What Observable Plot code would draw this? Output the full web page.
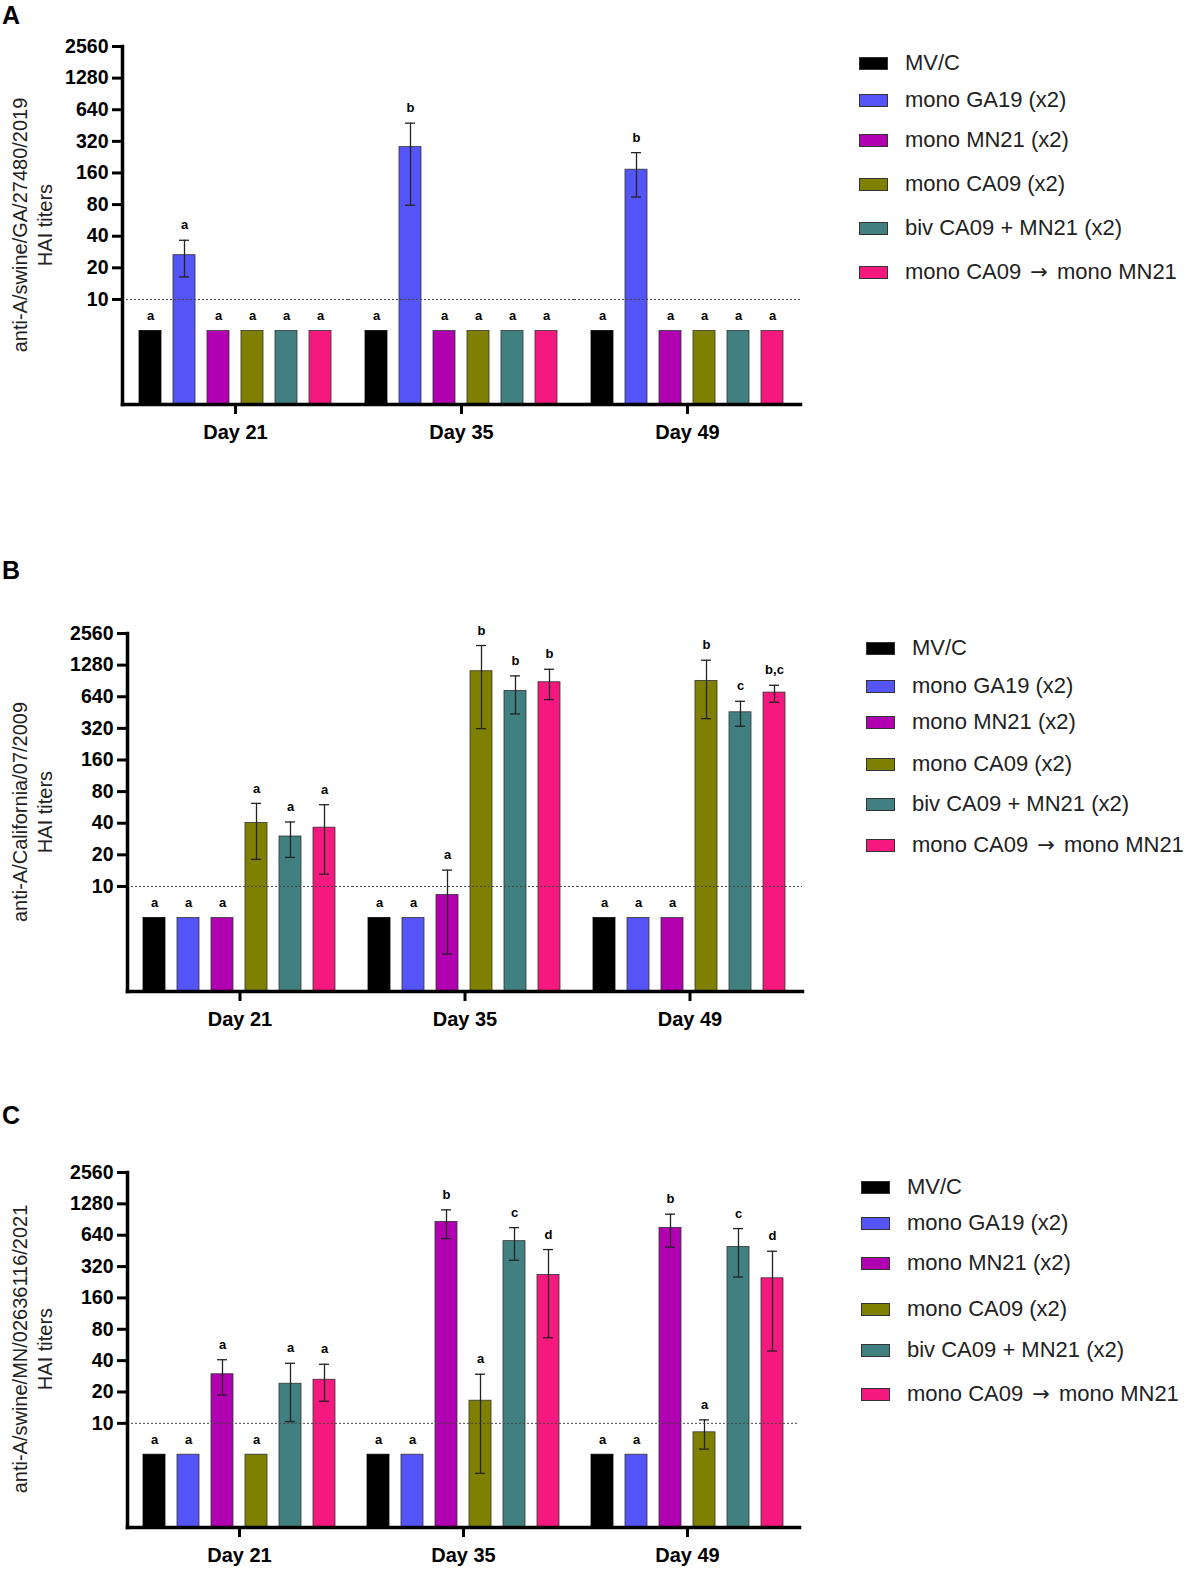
<!DOCTYPE html>
<html><head><meta charset="utf-8">
<script src="https://cdn.jsdelivr.net/npm/d3@7"></script>
<script src="https://cdn.jsdelivr.net/npm/@observablehq/plot@0.6"></script>
<style>
body{margin:0;background:#fff;font-family:"Liberation Sans",Arial,sans-serif;}
#root{position:relative;width:1190px;height:1570px;overflow:hidden;background:#fff;}
.plotbox{position:absolute;left:0;}
.letter{position:absolute;font-weight:bold;font-size:25px;line-height:25px;color:#000;}
.ytitle{position:absolute;transform:translate(-50%,-50%) rotate(-90deg);text-align:center;font-size:20px;line-height:25px;color:#222;white-space:nowrap;}
.leg{position:absolute;display:flex;align-items:center;height:26px;font-size:22px;color:#222;white-space:nowrap;}
.leg .arr{font-family:"DejaVu Sans",sans-serif;font-size:21px;margin:0 3px;}
.sw{box-sizing:border-box;width:29px;height:13px;border:1px solid #333;margin-right:17px;flex:none;}
</style></head><body><div id="root"></div>
<script>
// ---------- data ----------
const days = [21, 35, 49];
const groups = ["MV/C", "mono GA19 (x2)", "mono MN21 (x2)", "mono CA09 (x2)", "biv CA09 + MN21 (x2)", "mono CA09 \u2192 mono MN21"];
const colors = ["#000000", "#5555F7", "#B000B0", "#808000", "#408080", "#F5187F"];
const yTicks = [10, 20, 40, 80, 160, 320, 640, 1280, 2560];
const n = null;

// Panel A: anti-A/swine/GA/27480/2019 (rows = days, columns = groups)
const meanA = [[5, 26.4, 5, 5, 5, 5], [5, 282, 5, 5, 5, 5], [5, 172, 5, 5, 5, 5]];
const loA   = [[n, 16.4, n, n, n, n], [n, 79, n, n, n, n], [n, 94.5, n, n, n, n]];
const hiA   = [[n, 36.6, n, n, n, n], [n, 477, n, n, n, n], [n, 250, n, n, n, n]];
const letA  = [["a","a","a","a","a","a"], ["a","b","a","a","a","a"], ["a","b","a","a","a","a"]];

// Panel B: anti-A/California/07/2009
const meanB = [[5, 5, 5, 40.2, 29.9, 36.3], [5, 5, 8.3, 1119, 728, 879], [5, 5, 5, 906, 455, 701]];
const loB   = [[n, n, n, 18.1, 18.9, 13.1], [n, n, 2.27, 318, 439, 601], [n, n, n, 396, 335, 567]];
const hiB   = [[n, n, n, 61.8, 41.1, 60], [n, n, 14.3, 1967, 1011, 1169], [n, n, n, 1425, 579, 823]];
const letB  = [["a","a","a","a","a","a"], ["a","a","a","b","b","b"], ["a","a","a","b","c","b,c"]];

// Panel C: anti-A/swine/MN/02636116/2021
const meanC = [[5, 5, 29.6, 5, 24.0, 26.2], [5, 5, 859, 16.5, 561, 266], [5, 5, 753, 8.2, 494, 247]];
const loC   = [[n, n, 18.7, n, 10.4, 16.3], [n, n, 594, 3.31, 368, 66.4], [n, n, 491, 5.66, 254, 49.5]];
const hiC   = [[n, n, 40.8, n, 37.7, 36.9], [n, n, 1121, 29.6, 757, 466], [n, n, 1019, 10.8, 741, 449]];
const letC  = [["a","a","a","a","a","a"], ["a","a","b","a","c","d"], ["a","a","b","a","c","d"]];

const panelLetters = ["A", "B", "C"];
const yTitles = ["anti-A/swine/GA/27480/2019", "anti-A/California/07/2009", "anti-A/swine/MN/02636116/2021"];
const yTitle2 = "HAI titers";

// ---------- layout (pixels) ----------
const layouts = [
  {top: 0,    ml: 122, width: 810, height: 454, bottom: 404, letterTop: 3,    titleY: 225,  legX: 859, legY: [63, 100, 140, 184, 228, 272]},
  {top: 587,  ml: 126, width: 813, height: 454, bottom: 404, letterTop: 558,  titleY: 812,  legX: 866, legY: [648, 686, 722, 764, 804, 845]},
  {top: 1126, ml: 126, width: 809, height: 451, bottom: 401, letterTop: 1103, titleY: 1349, legX: 861, legY: [1187, 1223, 1263, 1309, 1350, 1394]}
];

function buildRows(mean, lo, hi, lets) {
  const rows = [];
  days.forEach((day, i) => groups.forEach((g, j) => {
    rows.push({day, group: g, value: mean[i][j], lo: lo[i][j], hi: hi[i][j], letter: lets[i][j],
               top: hi[i][j] != null ? Math.max(hi[i][j], mean[i][j]) : mean[i][j]});
  }));
  return rows;
}

const panels = [
  buildRows(meanA, loA, hiA, letA),
  buildRows(meanB, loB, hiB, letB),
  buildRows(meanC, loC, hiC, letC)
];
const tickRows = yTicks.map(v => ({day: days[0], v}));

const root = document.getElementById("root");
const FONT = "'Liberation Sans', Arial, sans-serif";

panels.forEach((rows, k) => {
  const L = layouts[k];
  const err = rows.filter(d => d.lo != null);
  const chart = Plot.plot({
    width: L.width, height: L.height,
    marginLeft: L.ml, marginRight: 10, marginTop: 46, marginBottom: L.height - L.bottom,
    style: {fontFamily: FONT, background: "transparent", color: "#000", overflow: "visible"},
    fx: {domain: days, padding: 0},
    x: {domain: groups, paddingInner: 0.346, paddingOuter: 0.458, axis: null},
    y: {type: "log", domain: [1, 2560], axis: null},
    color: {domain: groups, range: colors},
    marks: [
      Plot.barY(rows, {fx: "day", x: "group", y1: 1, y2: "value", fill: "group",
        stroke: d => d.group === groups[0] ? "#000" : "#333", strokeWidth: 0.8}),
      Plot.ruleY([10], {stroke: "#444", strokeDasharray: "2,2", strokeWidth: 1}),
      Plot.ruleX(err, {fx: "day", x: "group", y1: "lo", y2: "hi", stroke: "#222", strokeWidth: 1.3}),
      Plot.tickY(err, {fx: "day", x: "group", y: "lo", stroke: "#222", strokeWidth: 1.3, insetLeft: 6, insetRight: 6}),
      Plot.tickY(err, {fx: "day", x: "group", y: "hi", stroke: "#222", strokeWidth: 1.3, insetLeft: 6, insetRight: 6}),
      Plot.text(rows, {fx: "day", x: "group", y: "top", text: "letter", dy: -15, fontWeight: "bold", fontSize: 13, fill: "#000"}),
      Plot.frame({anchor: "left", facet: "super", strokeWidth: 3.5, stroke: "#000"}),
      Plot.frame({anchor: "bottom", facet: "super", strokeWidth: 3.5, stroke: "#000"}),
      Plot.axisY({ticks: yTicks, tickSize: 10, strokeWidth: 3, fill: "none", label: null}),
      Plot.text(tickRows, {fx: "day", y: "v", text: d => String(d.v), frameAnchor: "left", dx: -14,
        textAnchor: "end", fontWeight: "bold", fontSize: 19.5, fill: "#000"}),
      Plot.axisFx({anchor: "bottom", tickSize: 10, tickPadding: 10, strokeWidth: 3, fontSize: 20,
        fontWeight: "bold", tickFormat: d => "Day " + d, label: null})
    ]
  });
  const box = document.createElement("div");
  box.className = "plotbox";
  box.style.top = L.top + "px";
  box.appendChild(chart);
  root.appendChild(box);

  const letter = document.createElement("div");
  letter.className = "letter";
  letter.style.left = "2px";
  letter.style.top = L.letterTop + "px";
  letter.textContent = panelLetters[k];
  root.appendChild(letter);

  const t = document.createElement("div");
  t.className = "ytitle";
  t.style.left = "33px";
  t.style.top = L.titleY + "px";
  t.innerHTML = yTitles[k] + "<br>" + yTitle2;
  root.appendChild(t);

  groups.forEach((g, j) => {
    const row = document.createElement("div");
    row.className = "leg";
    row.style.left = L.legX + "px";
    row.style.top = (L.legY[j] - 13) + "px";
    const sw = document.createElement("span");
    sw.className = "sw";
    sw.style.background = colors[j];
    const tx = document.createElement("span");
    const parts = g.split("\u2192");
    parts.forEach((p, pi) => {
      tx.appendChild(document.createTextNode(p));
      if (pi < parts.length - 1) {
        const a = document.createElement("span");
        a.className = "arr";
        a.textContent = "\u2192";
        tx.appendChild(a);
      }
    });
    row.appendChild(sw); row.appendChild(tx);
    root.appendChild(row);
  });
});
</script></body></html>
